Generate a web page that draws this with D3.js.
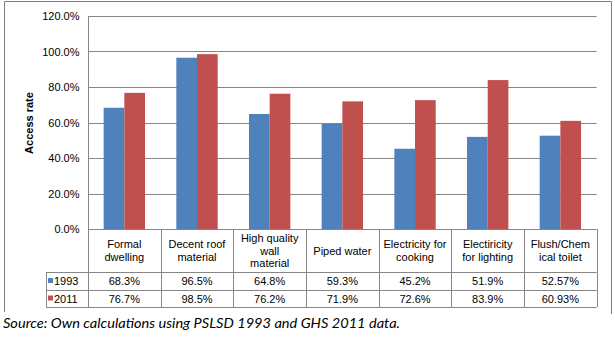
<!DOCTYPE html>
<html><head><meta charset="utf-8">
<script src="https://cdn.jsdelivr.net/npm/d3@7"></script>
<style>body{margin:0;background:#fff}svg{display:block}</style>
</head><body>
<script>
const categories = ["Formal dwelling","Decent roof material","High quality wall material","Piped water","Electricity for cooking","Electiricity for lighting","Flush/Chemical toilet"];
const categoryLines = [["Formal","dwelling"],["Decent roof","material"],["High quality","wall","material"],["Piped water"],["Electricity for","cooking"],["Electiricity","for lighting"],["Flush/Chem","ical toilet"]];
const seriesNames = ["1993","2011"];
const values1993 = [68.3,96.5,64.8,59.3,45.2,51.9,52.57];
const values2011 = [76.7,98.5,76.2,71.9,72.6,83.9,60.93];
const labels1993 = ["68.3%","96.5%","64.8%","59.3%","45.2%","51.9%","52.57%"];
const labels2011 = ["76.7%","98.5%","76.2%","71.9%","72.6%","83.9%","60.93%"];
const yTicks = [0,20,40,60,80,100,120];
const colors = ["#4F81BD","#C0504D"];

const W=615,H=340;
const svg=d3.select("body").append("svg").attr("width",W).attr("height",H);
const font="'Liberation Sans', Arial, sans-serif";
const grid="#868686";

// outer border
svg.append("path").attr("d","M4.5,312 V1.5 H611.5 V314").attr("fill","none").attr("stroke","#7f7f7f").attr("stroke-width",1);

const x=d3.scaleBand().domain(categories).range([88,596.7]).padding(0);
const xs=d3.scaleBand().domain(seriesNames).range([0,x.bandwidth()]).paddingInner(0).paddingOuter(0.757);
const y=d3.scaleLinear().domain([0,120]).range([229,16]);

// gridlines
svg.append("g").selectAll("line").data(yTicks.filter(d=>d>0)).join("line")
  .attr("x1",88).attr("x2",596.7).attr("y1",d=>Math.round(y(d))+0.5).attr("y2",d=>Math.round(y(d))+0.5)
  .attr("stroke",grid).attr("stroke-width",1);

// y axis
const yAxis=d3.axisLeft(y).tickValues(yTicks).tickFormat(d=>d.toFixed(1)+"%").tickSize(0).tickPadding(9);
const ga=svg.append("g").attr("transform","translate(88.5,0)").call(yAxis);
ga.select(".domain").remove();
ga.selectAll("text").attr("font-family",font).attr("font-size",11).attr("fill","#000");
svg.append("line").attr("x1",88.5).attr("x2",88.5).attr("y1",16).attr("y2",307).attr("stroke",grid);

svg.append("text").attr("transform","translate(33,123) rotate(-90)").attr("text-anchor","middle")
  .attr("font-family",font).attr("font-size",11).attr("font-weight","bold").text("Access rate");

// bars
const series=[values1993,values2011];
series.forEach((vals,si)=>{
  svg.append("g").selectAll("rect").data(vals).join("rect")
    .attr("x",(d,i)=>x(categories[i])+xs(seriesNames[si]))
    .attr("width",xs.bandwidth())
    .attr("y",d=>y(d)).attr("height",d=>y(0)-y(d))
    .attr("fill",colors[si]);
});

// table
const tl=svg.append("g").attr("stroke",grid).attr("stroke-width",1);
tl.append("line").attr("x1",88).attr("x2",596.7).attr("y1",229.5).attr("y2",229.5);
[272,290,306.5].forEach(yy=>tl.append("line").attr("x1",46).attr("x2",596.7).attr("y1",Math.round(yy)+0.5).attr("y2",Math.round(yy)+0.5));
tl.append("line").attr("x1",46.5).attr("x2",46.5).attr("y1",272).attr("y2",307);
categories.forEach((c,i)=>{
  const xx=Math.round(x(c)+x.bandwidth())+0.5;
  tl.append("line").attr("x1",xx).attr("x2",xx).attr("y1",229).attr("y2",307);
});

const tg=svg.append("g").attr("font-family",font).attr("font-size",11).attr("fill","#000").attr("text-anchor","middle");
categories.forEach((c,i)=>{
  const lines=categoryLines[i];
  const cx=x(c)+x.bandwidth()/2;
  const lh=12.5, cy=250.5;
  lines.forEach((l,j)=>{
    tg.append("text").attr("x",cx).attr("y",cy+(j-(lines.length-1)/2)*lh+4).text(l);
  });
  tg.append("text").attr("x",cx).attr("y",285).text(labels1993[i]);
  tg.append("text").attr("x",cx).attr("y",302.5).text(labels2011[i]);
});
// legend keys
[[281,0],[298.5,1]].forEach(([yy,si])=>{
  svg.append("rect").attr("x",48).attr("y",yy-3).attr("width",5).attr("height",5).attr("fill",colors[si]);
  svg.append("text").attr("x",54).attr("y",yy+4).attr("font-family",font).attr("font-size",11).text(seriesNames[si]);
});

// source
svg.append("text").attr("x",3).attr("y",327.5).attr("font-family","Lato, 'Open Sans', sans-serif")
  .attr("font-style","italic").attr("font-size",14).attr("fill","#000")
  .attr("textLength",397).attr("lengthAdjust","spacingAndGlyphs")
  .text("Source: Own calculations using PSLSD 1993 and GHS 2011 data.");
</script>
</body></html>
